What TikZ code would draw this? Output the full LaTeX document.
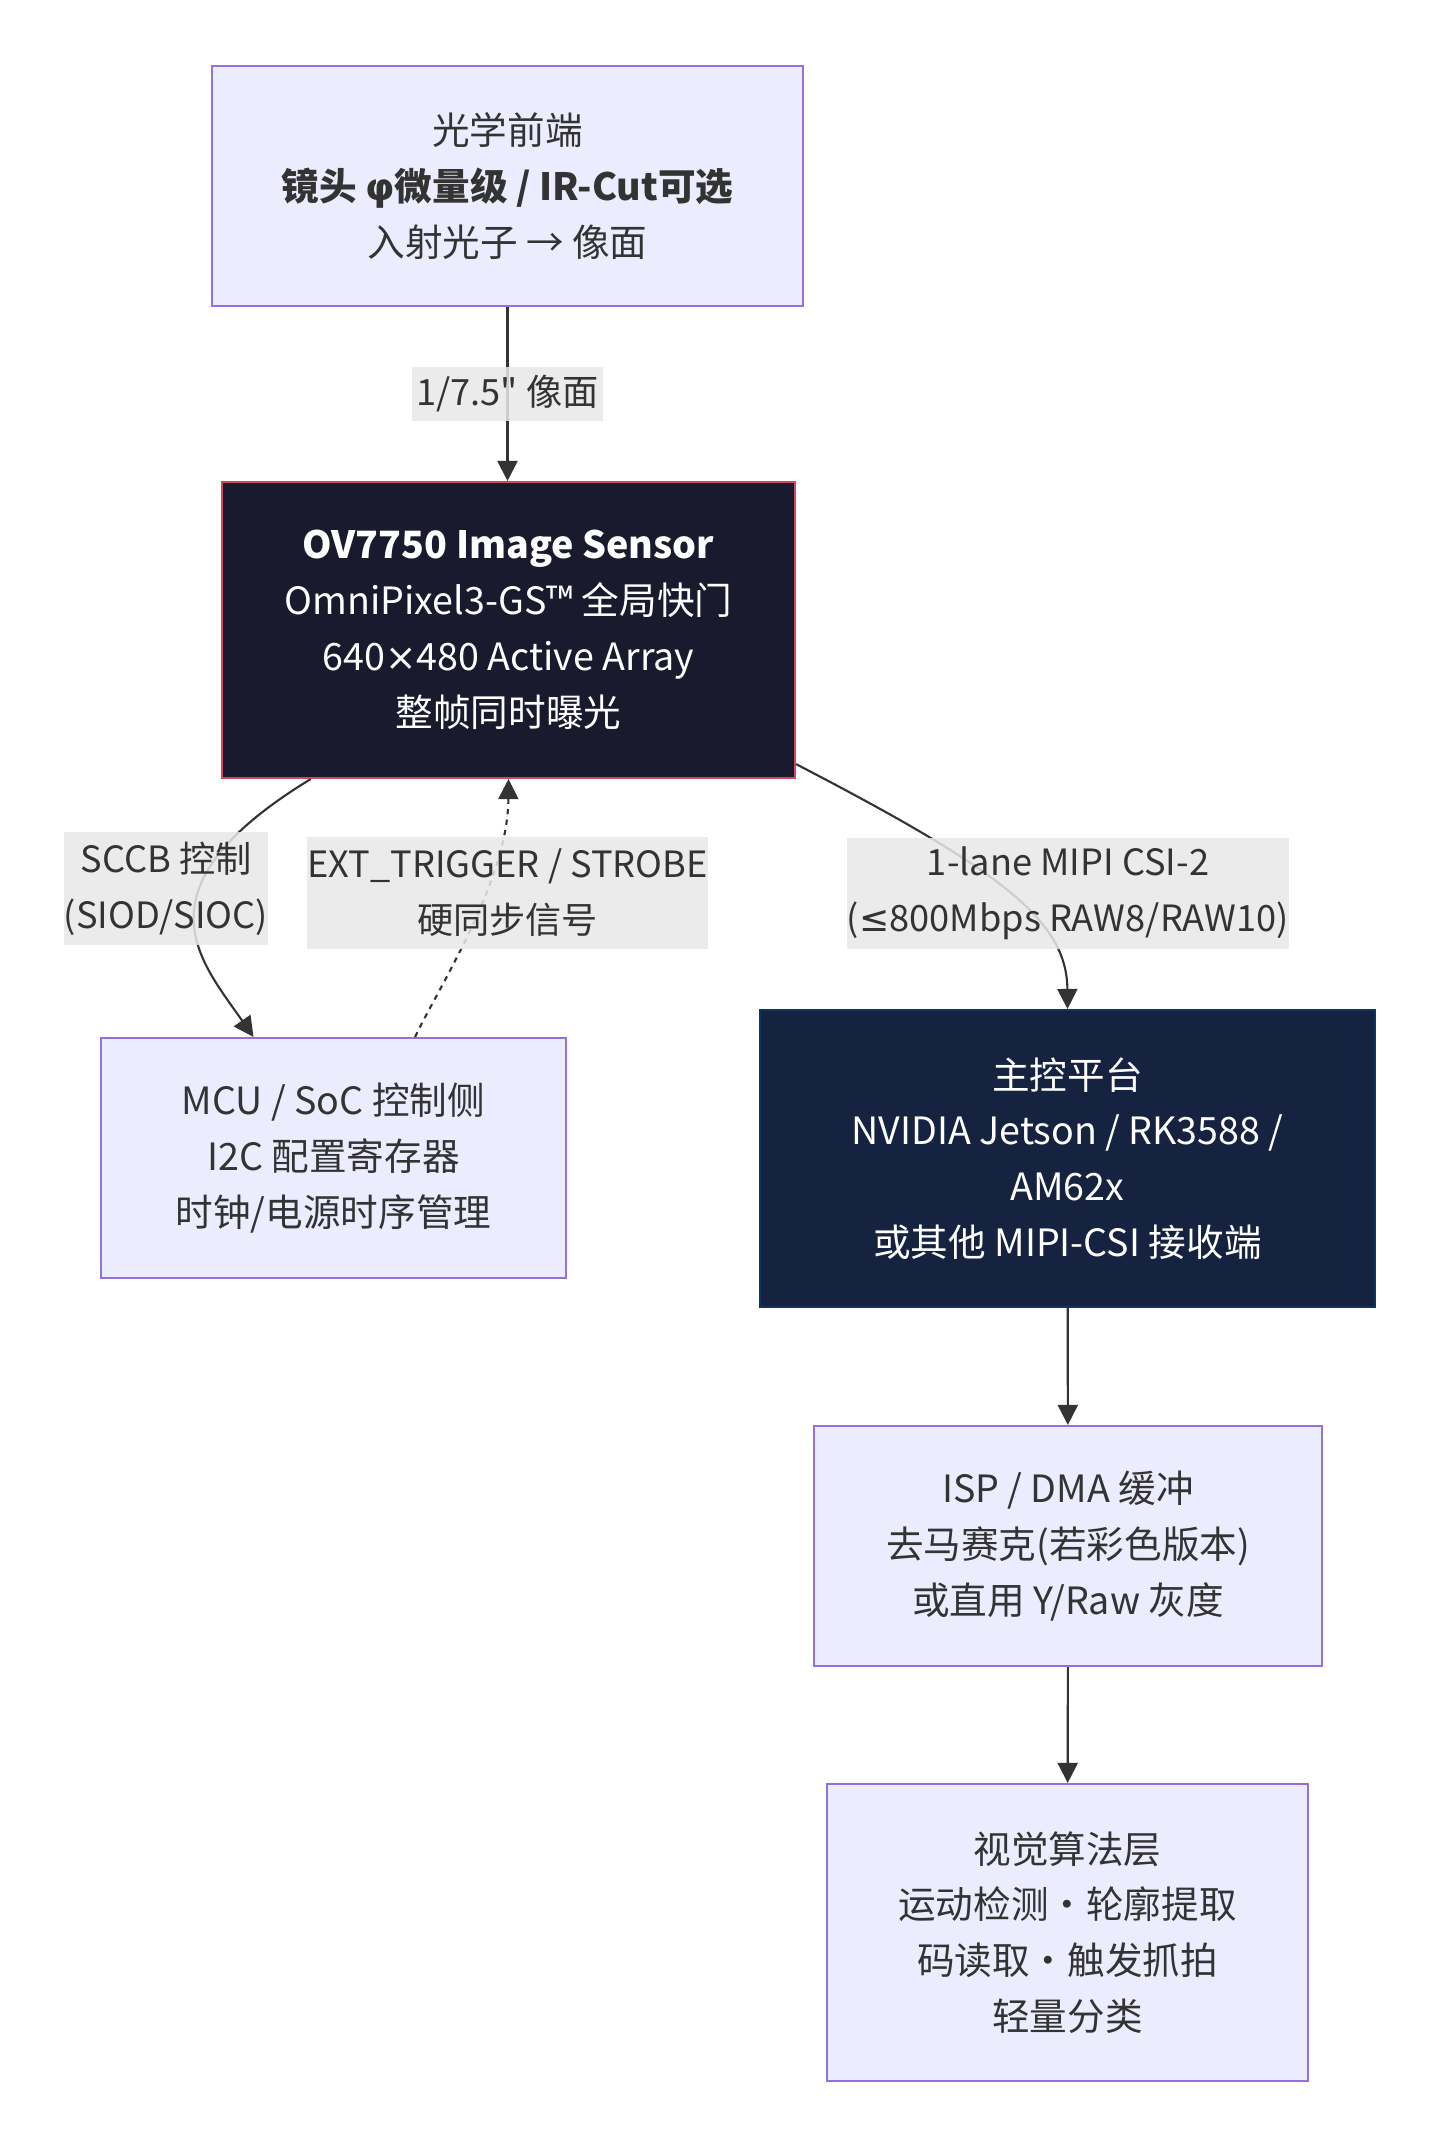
\documentclass[tikz,border=0pt]{standalone}
\usepackage{fontspec}
\setmainfont{Noto Sans CJK SC}[Ligatures=TeXOff]
\newfontfamily\symfont{DejaVu Sans}
\usetikzlibrary{arrows.meta}
\definecolor{boxfill}{HTML}{ECECFF}
\definecolor{boxline}{HTML}{9370DB}
\definecolor{sensorfill}{HTML}{1A1A2E}
\definecolor{sensorline}{HTML}{D04860}
\definecolor{hostfill}{HTML}{152240}
\definecolor{hostline}{HTML}{0F3460}
\definecolor{inkgray}{HTML}{333333}
\definecolor{labelgray}{HTML}{E8E8E8}

\begin{document}
\begin{tikzpicture}[x=0.1mm,y=-0.1mm,
    block/.style={draw=boxline,fill=boxfill,line width=0.6pt,text=inkgray,align=center,
      inner sep=0pt,font=\fontsize{10.7}{15.9}\selectfont},
    darkblock/.style={block,text=white},
    edgelabel/.style={fill=labelgray,fill opacity=0.85,text opacity=1,text=inkgray,align=center,
      inner sep=0pt,font=\fontsize{10.3}{15.9}\selectfont},
    link/.style={draw=inkgray,line width=0.6pt,-{Triangle[length=2mm,width=2mm]}}]
  \useasboundingbox (0,0) rectangle (1440,2148);
  \fill[white] (0,0) rectangle (1440,2148);

  % boxes
  \node[block,minimum width=59.1mm,minimum height=24mm] (optics) at (507.5,186)
    {光学前端\\\bfseries 镜头 {\symfont φ}微量级 / IR-Cut可选\\入射光子 → 像面};
  \node[darkblock,fill=sensorfill,draw=sensorline,minimum width=57.3mm,minimum height=29.6mm] (sensor) at (508.5,630)
    {\bfseries OV7750 Image Sensor\\OmniPixel3-GS™ 全局快门\\640{\symfont ×}480 Active Array\\整帧同时曝光};
  \node[block,minimum width=46.5mm,minimum height=24mm] (mcu) at (333.5,1158)
    {MCU / SoC 控制侧\\I2C 配置寄存器\\时钟/电源时序管理};
  \node[darkblock,fill=hostfill,draw=hostline,minimum width=61.5mm,minimum height=29.7mm] (host) at (1067.5,1158.5)
    {主控平台\\NVIDIA Jetson / RK3588 /\\AM62x\\或其他 MIPI-CSI 接收端};
  \node[block,minimum width=50.8mm,minimum height=24mm] (isp) at (1068,1546)
    {ISP / DMA 缓冲\\去马赛克(若彩色版本)\\或直用 Y/Raw 灰度};
  \node[block,minimum width=48.1mm,minimum height=29.7mm] (vision) at (1067.5,1932.5)
    {视觉算法层\\运动检测·轮廓提取\\码读取·触发抓拍\\轻量分类};

  % connectors
  \draw[link] (optics.south) -- (optics.south |- sensor.north);
  \draw[link] (sensor.217) .. controls (132,888) and (200,960) .. ([xshift=-8mm]mcu.north);
  \draw[link,dash pattern=on 1.5pt off 1.5pt] ([xshift=8.15mm]mcu.north) .. controls (440,985) and (508,880) .. (sensor.south);
  \draw[link] (sensor.-25.5) .. controls (1000,870) and (1067,920) .. (host.north);
  \draw[link] (host) -- (isp);
  \draw[link] (isp) -- (vision);

  % labels on the connectors
  \node[edgelabel,minimum width=19.1mm,minimum height=5.4mm] (lensimg) at (507.5,394) {1/7.5" 像面};
  \node[edgelabel,minimum width=20mm,minimum height=11.3mm] (sccb) at (166,888.5) {SCCB 控制\\(SIOD/SIOC)};
  \node[edgelabel,minimum width=40.1mm,minimum height=11.2mm] (trig) at (507.5,893) {EXT\_TRIGGER / STROBE\\硬同步信号};
  \node[edgelabel,minimum width=42.6mm,minimum height=11.1mm] (mipi) at (1068,893.5) {1-lane MIPI CSI-2\\({\symfont ≤}800Mbps RAW8/RAW10)};
\end{tikzpicture}
\end{document}
